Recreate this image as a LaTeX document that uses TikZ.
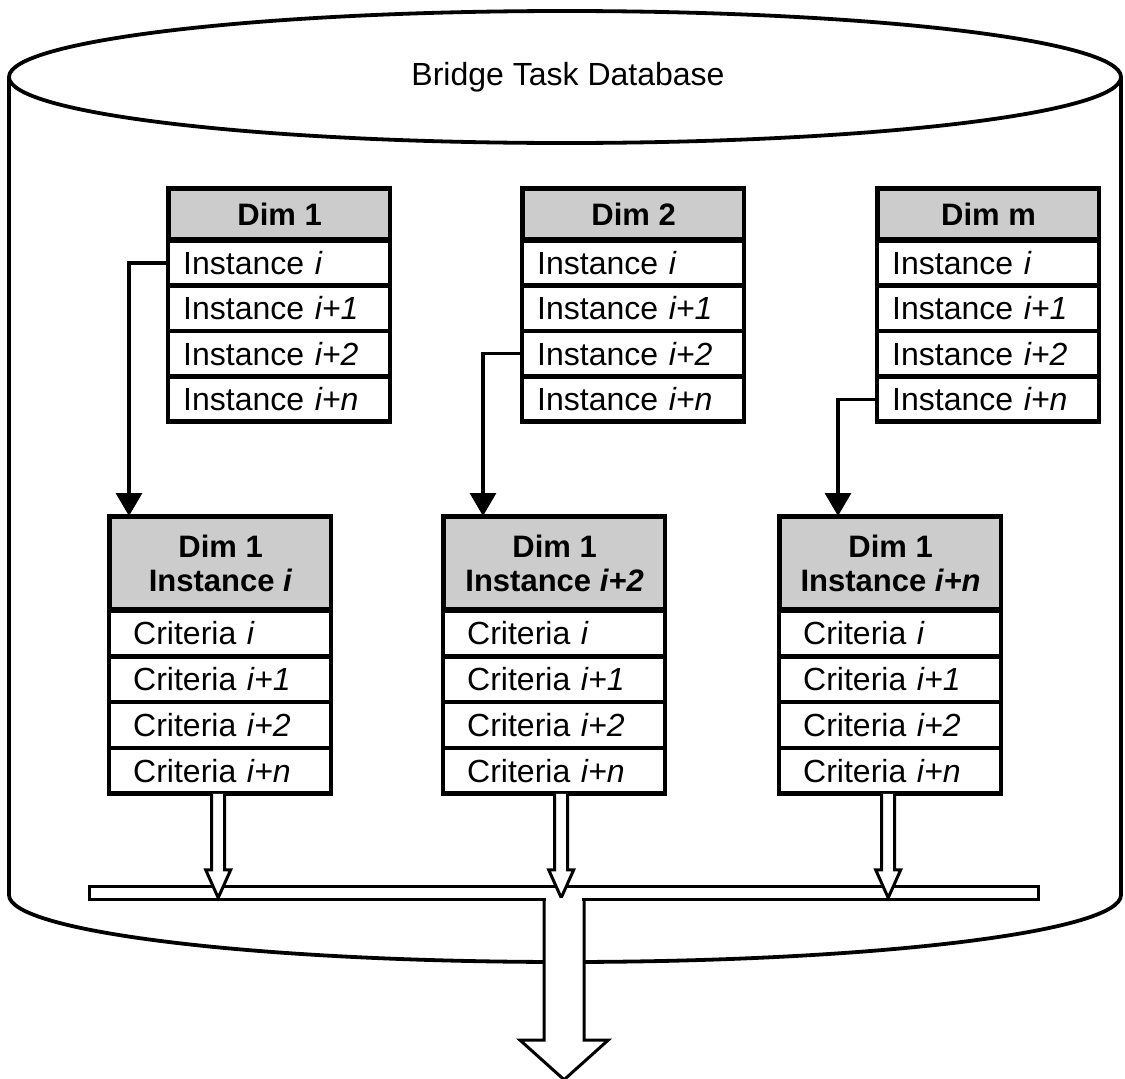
\documentclass[tikz,border=0pt]{standalone}
\usepackage{fontspec}
\setmainfont{Liberation Sans}
\usetikzlibrary{arrows.meta}
\definecolor{hdrgray}{gray}{0.80}
\begin{document}
\begin{tikzpicture}[x=1pt,y=-1pt,
  every node/.style={inner sep=0pt},
  cyl/.style={line width=3.8pt},
  frame/.style={line width=3.4pt},
  uhdr/.style={draw, line width=3.2pt, fill=hdrgray, minimum width=220pt,
    minimum height=49pt, anchor=north west,
    font=\fontsize{31}{34}\selectfont\bfseries, text height=23pt, text depth=0pt},
  urow/.style={draw, line width=2.4pt, minimum width=220pt, text width=192pt,
    align=left, minimum height=43pt, anchor=north west,
    font=\fontsize{32}{36}\selectfont, text height=23pt, text depth=0pt},
  lhdr/.style={draw, line width=3.2pt, fill=hdrgray, minimum width=220pt,
    minimum height=91pt, anchor=north west, align=center,
    font=\fontsize{31}{34}\selectfont\bfseries},
  lrow/.style={draw, line width=2.4pt, minimum width=220pt, text width=174pt,
    align=left, minimum height=43.5pt, anchor=north west,
    font=\fontsize{32}{36}\selectfont, text height=23pt, text depth=0pt},
  conn/.style={line width=3.2pt, -{Triangle[width=26pt,length=23pt]}},
  hollow/.style={draw, line width=3pt, fill=white, line join=miter},
  bar/.style={draw, line width=3.2pt, fill=white, minimum width=949pt,
    minimum height=13pt, anchor=north west}
]
\useasboundingbox (0,0) rectangle (1125,1079);

% database cylinder
\draw[cyl] (9,77) -- (9,895)
  .. controls (9,932) and (258,962) .. (565,962)
  .. controls (872,962) and (1121,932) .. (1121,895) -- (1121,77);
\draw[cyl] (565,77) ellipse [x radius=556, y radius=66];
\node[font=\fontsize{32}{36}\selectfont] (title) at (568,77) {Bridge Task Database};

% dimension tables
\node[uhdr] (d1h) at (168,188) {Dim 1};
\node[urow] (d1r1) at (d1h.south west) {Instance \textit{i}};
\node[urow] (d1r2) at (d1r1.south west) {Instance \textit{i+1}};
\node[urow] (d1r3) at (d1r2.south west) {Instance \textit{i+2}};
\node[urow] (d1r4) at (d1r3.south west) {Instance \textit{i+n}};
\draw[frame] (d1h.north west) rectangle (d1r4.south east);

\node[uhdr] (d2h) at (522,188) {Dim 2};
\node[urow] (d2r1) at (d2h.south west) {Instance \textit{i}};
\node[urow] (d2r2) at (d2r1.south west) {Instance \textit{i+1}};
\node[urow] (d2r3) at (d2r2.south west) {Instance \textit{i+2}};
\node[urow] (d2r4) at (d2r3.south west) {Instance \textit{i+n}};
\draw[frame] (d2h.north west) rectangle (d2r4.south east);

\node[uhdr] (d3h) at (877,188) {Dim m};
\node[urow] (d3r1) at (d3h.south west) {Instance \textit{i}};
\node[urow] (d3r2) at (d3r1.south west) {Instance \textit{i+1}};
\node[urow] (d3r3) at (d3r2.south west) {Instance \textit{i+2}};
\node[urow] (d3r4) at (d3r3.south west) {Instance \textit{i+n}};
\draw[frame] (d3h.north west) rectangle (d3r4.south east);

% criteria tables
\node[lhdr] (l1h) at (109,516) {Dim 1\\Instance \textit{i}};
\node[lrow] (l1r1) at (l1h.south west) {Criteria \textit{i}};
\node[lrow] (l1r2) at (l1r1.south west) {Criteria \textit{i+1}};
\node[lrow] (l1r3) at (l1r2.south west) {Criteria \textit{i+2}};
\node[lrow] (l1r4) at (l1r3.south west) {Criteria \textit{i+n}};
\draw[frame] (l1h.north west) rectangle (l1r4.south east);

\node[lhdr] (l2h) at (443,516) {Dim 1\\Instance \textit{i+2}};
\node[lrow] (l2r1) at (l2h.south west) {Criteria \textit{i}};
\node[lrow] (l2r2) at (l2r1.south west) {Criteria \textit{i+1}};
\node[lrow] (l2r3) at (l2r2.south west) {Criteria \textit{i+2}};
\node[lrow] (l2r4) at (l2r3.south west) {Criteria \textit{i+n}};
\draw[frame] (l2h.north west) rectangle (l2r4.south east);

\node[lhdr] (l3h) at (779,516) {Dim 1\\Instance \textit{i+n}};
\node[lrow] (l3r1) at (l3h.south west) {Criteria \textit{i}};
\node[lrow] (l3r2) at (l3r1.south west) {Criteria \textit{i+1}};
\node[lrow] (l3r3) at (l3r2.south west) {Criteria \textit{i+2}};
\node[lrow] (l3r4) at (l3r3.south west) {Criteria \textit{i+n}};
\draw[frame] (l3h.north west) rectangle (l3r4.south east);

% instance selections
\draw[conn] (d1r1.west) -| ([xshift=20pt]l1h.north west);
\draw[conn] (d2r3.west) -| ([xshift=40pt]l2h.north west);
\draw[conn] (d3r4.west) -| ([xshift=59pt]l3h.north west);

% collecting bar and outputs
\node[bar] (bus) at (88,885) {};
\draw[hollow] ([xshift=-8.5pt]l1r4.south) -- ++(0,76) -- ++(-6,0) -- ++(12.5,28)
  -- ++(12.5,-28) -- ++(-6,0) -- ++(0,-76);
\draw[hollow] ([xshift=0.5pt]l2r4.south) -- ++(0,76) -- ++(-6,0) -- ++(12.5,28)
  -- ++(12.5,-28) -- ++(-6,0) -- ++(0,-76);
\draw[hollow] ([xshift=-8.5pt]l3r4.south) -- ++(0,76) -- ++(-6,0) -- ++(12.5,28)
  -- ++(12.5,-28) -- ++(-6,0) -- ++(0,-76);

\fill[white] ([xshift=-18pt,yshift=3pt]bus.south) rectangle ([xshift=18pt,yshift=-2.5pt]bus.south);
\filldraw[hollow] ([xshift=-20pt]bus.south) -- ++(0,139) -- ++(-24,0) -- ++(44,39.5)
  -- ++(44,-39.5) -- ++(-24,0) -- ++(0,-139);
\end{tikzpicture}
\end{document}
